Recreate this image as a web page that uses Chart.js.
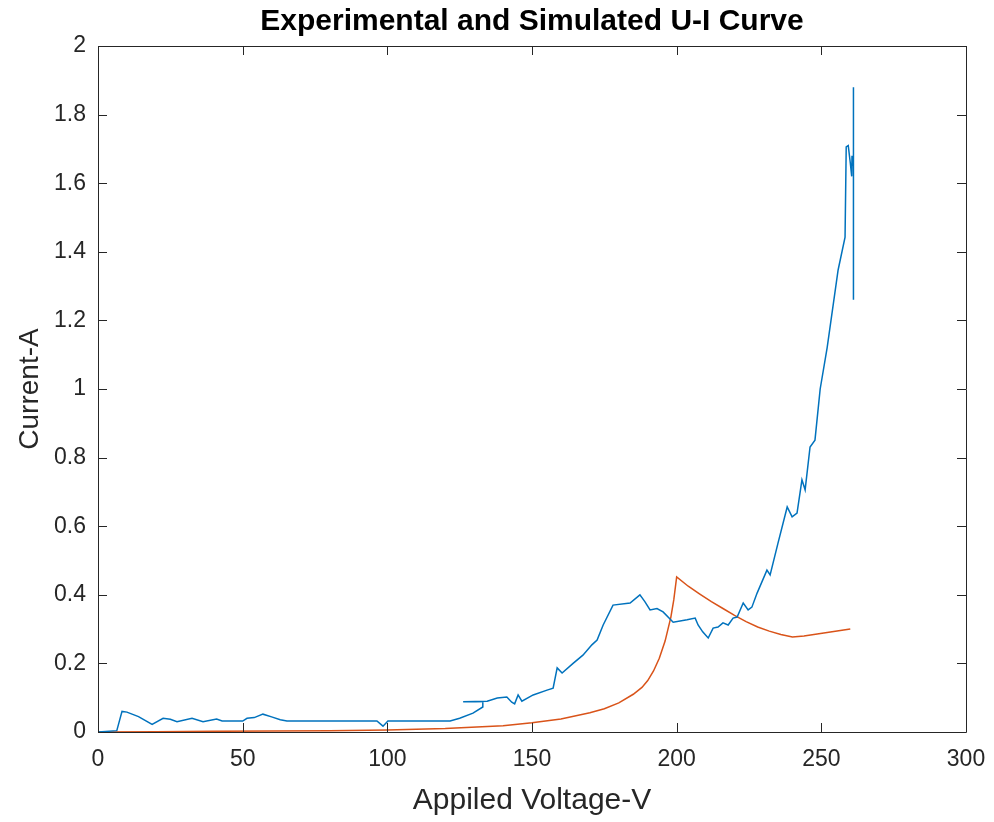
<!DOCTYPE html>
<html><head><meta charset="utf-8">
<script src="https://cdn.jsdelivr.net/npm/chart.js@4/dist/chart.umd.min.js"></script>
<style>html,body{margin:0;padding:0;background:#fff}</style>
</head><body>
<canvas id="c" width="994" height="822"></canvas>
<script>
const chartTitle = 'Experimental and Simulated U-I Curve';
const xAxisLabel = 'Appiled Voltage-V';
const yAxisLabel = 'Current-A';
const xTickValues = [0, 50, 100, 150, 200, 250, 300];
const yTickValues = [0, 0.2, 0.4, 0.6, 0.8, 1, 1.2, 1.4, 1.6, 1.8, 2];

const measuredVoltage = [0, 6.5, 8.3, 10, 14, 18.7, 22.5, 25, 27.3, 32.5, 36.3, 41, 42.9, 50, 51.5, 54, 57, 60, 63, 65.3, 96.4, 98.5, 100.2, 121.7, 125, 129.6, 133, 133, 126.2, 134.5, 138, 141.3, 143, 144, 145.2, 146.5, 150.4, 155.2, 157.3, 158.7, 160.4, 164.2, 167.6, 170.7, 172.5, 174.6, 178, 183.9, 187.3, 189, 190.8, 193.2, 195.3, 198.8, 203.6, 206.4, 207.4, 209, 210.9, 212.6, 214.3, 216, 217.8, 219.5, 220.9, 223, 224.7, 226, 227.8, 231.2, 232.3, 235, 238.2, 239.9, 241.6, 243.3, 244.4, 246.1, 247.8, 249.6, 252, 255.8, 258.2, 258.6, 259.3, 260, 260.5, 260.6, 261.1, 261.1, 261.1];
const measuredCurrent = [0, 0.004, 0.06, 0.058, 0.045, 0.022, 0.04, 0.037, 0.03, 0.04, 0.03, 0.038, 0.032, 0.032, 0.04, 0.042, 0.052, 0.044, 0.036, 0.032, 0.032, 0.017, 0.032, 0.032, 0.04, 0.055, 0.073, 0.088, 0.088, 0.09, 0.099, 0.102, 0.087, 0.082, 0.108, 0.09, 0.108, 0.122, 0.128, 0.187, 0.172, 0.2, 0.224, 0.254, 0.268, 0.312, 0.37, 0.376, 0.4, 0.38, 0.356, 0.36, 0.35, 0.32, 0.327, 0.332, 0.312, 0.292, 0.274, 0.303, 0.306, 0.318, 0.312, 0.332, 0.335, 0.376, 0.356, 0.364, 0.405, 0.472, 0.458, 0.55, 0.656, 0.627, 0.638, 0.735, 0.706, 0.831, 0.851, 1.0, 1.12, 1.347, 1.443, 1.706, 1.71, 1.66, 1.62, 1.68, 1.65, 1.88, 1.26];

const simulatedVoltage = [0, 20, 40, 60, 80, 100, 120, 140, 150, 160, 170, 175, 180, 185, 188, 190, 192, 194, 196, 198, 199, 200, 204, 208, 212, 216, 220, 224, 228, 232, 236, 240, 244, 248, 252, 256, 260];
const simulatedCurrent = [0, 0.001, 0.002, 0.003, 0.004, 0.006, 0.01, 0.018, 0.027, 0.038, 0.056, 0.068, 0.085, 0.11, 0.13, 0.15, 0.178, 0.215, 0.265, 0.335, 0.385, 0.452, 0.425, 0.402, 0.38, 0.36, 0.34, 0.322, 0.306, 0.294, 0.284, 0.277, 0.28, 0.285, 0.29, 0.295, 0.3];

const toPoints = (xs, ys) => xs.map((x, i) => ({x, y: ys[i]}));
const axisColor = '#262626';
const fontFamily = '"Liberation Sans", Arial, sans-serif';

const matlabBox = {
  id: 'matlabBox',
  afterDatasetsDraw(chart) {
    const {ctx, chartArea: a, scales: {x, y}} = chart;
    const tl = 9;
    ctx.save();
    ctx.strokeStyle = axisColor;
    ctx.lineWidth = 1;
    ctx.beginPath();
    ctx.rect(Math.round(a.left) + 0.5, Math.round(a.top) + 0.5, Math.round(a.right - a.left), Math.round(a.bottom - a.top));
    for (const v of xTickValues) {
      const px = Math.round(x.getPixelForValue(v)) + 0.5;
      ctx.moveTo(px, a.bottom); ctx.lineTo(px, a.bottom - tl);
      ctx.moveTo(px, a.top); ctx.lineTo(px, a.top + tl);
    }
    for (const v of yTickValues) {
      const py = Math.round(y.getPixelForValue(v)) + 0.5;
      ctx.moveTo(a.left, py); ctx.lineTo(a.left + tl, py);
      ctx.moveTo(a.right, py); ctx.lineTo(a.right - tl, py);
    }
    ctx.stroke();
    ctx.restore();
  }
};

new Chart(document.getElementById('c'), {
  type: 'scatter',
  data: {
    datasets: [
      {label: 'Experimental', data: toPoints(measuredVoltage, measuredCurrent), showLine: true, borderColor: '#0072BD', backgroundColor: '#0072BD', borderWidth: 1.5, pointRadius: 0, tension: 0},
      {label: 'Simulated', data: toPoints(simulatedVoltage, simulatedCurrent), showLine: true, borderColor: '#D95319', backgroundColor: '#D95319', borderWidth: 1.5, pointRadius: 0, tension: 0}
    ]
  },
  options: {
    responsive: false,
    animation: false,
    layout: {padding: {left: 0, right: 28, top: 0, bottom: 0}},
    plugins: {
      legend: {display: false},
      tooltip: {enabled: false},
      title: {display: true, fullSize: false, text: chartTitle, color: '#000', font: {family: fontFamily, size: 30, weight: 'bold'}, padding: {top: 4, bottom: 6}}
    },
    scales: {
      x: {
        type: 'linear', min: 0, max: 300,
        afterBuildTicks: s => { s.ticks = xTickValues.map(v => ({value: v})); },
        afterFit: s => { s.height = 90; s.paddingLeft = 0; s.paddingRight = 0; },
        grid: {display: false, drawTicks: false},
        border: {display: false},
        ticks: {color: axisColor, padding: 14, maxRotation: 0, font: {family: fontFamily, size: 23}, callback: v => String(v)},
        title: {display: true, text: xAxisLabel, color: axisColor, font: {family: fontFamily, size: 30}, padding: {top: 0, bottom: 3}}
      },
      y: {
        type: 'linear', min: 0, max: 2,
        afterBuildTicks: s => { s.ticks = yTickValues.map(v => ({value: v})); },
        afterFit: s => { s.width = 98; },
        grid: {display: false, drawTicks: false},
        border: {display: false},
        ticks: {color: axisColor, padding: 12, font: {family: fontFamily, size: 23}, callback: v => String(+v.toFixed(1))},
        title: {display: true, text: yAxisLabel, color: axisColor, font: {family: fontFamily, size: 28}, padding: {top: 13, bottom: 0}}
      }
    }
  },
  plugins: [matlabBox]
});
</script>
</body></html>
